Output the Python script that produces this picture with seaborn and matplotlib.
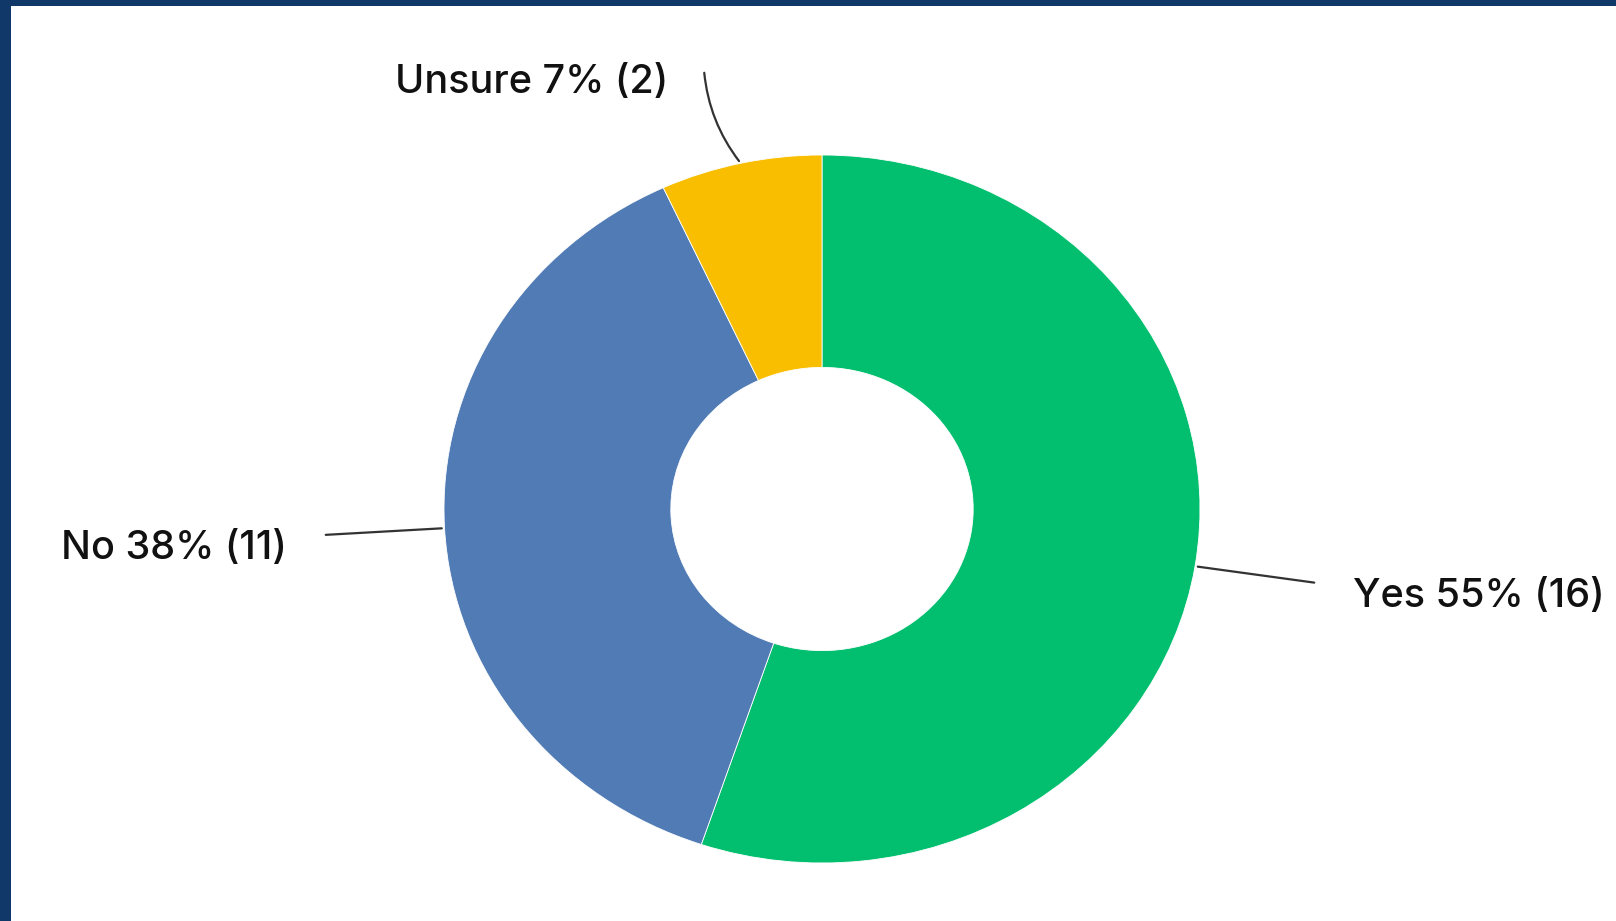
import numpy as np
import matplotlib
matplotlib.use("Agg")
import matplotlib.pyplot as plt
import seaborn as sns

# --- data ---
labels = ["Yes", "No", "Unsure"]
counts = [16, 11, 2]
colors = ["#02BF6F", "#507BB4", "#F9BE00"]

sns.set_theme(style="white")
plt.rcParams["font.family"] = ["Inter", "DejaVu Sans"]

NAVY = "#10396A"
W, H = 1616, 921

fig = plt.figure(figsize=(W / 100, H / 100), dpi=100)
fig.patch.set_facecolor(NAVY)
# white panel, navy strip on left and top; limits in pixel units
ax = fig.add_axes([11 / W, 0, 1 - 11 / W, 1 - 6 / H])
ax.set_facecolor("white")
ax.set_xlim(11, W)
ax.set_ylim(0, H - 6)
ax.set_axis_off()
ax.add_patch(plt.Rectangle((11, 0), W - 11, H - 6, color="white", zorder=0))

# donut is slightly wider than tall in the reference
cx, cy, rx, ry = 822, 412, 378, 354
pax = fig.add_axes([(cx - rx) / W, (cy - ry) / H, 2 * rx / W, 2 * ry / H])
wedges, _ = pax.pie(counts, colors=colors, startangle=90, counterclock=False,
                    radius=1, wedgeprops=dict(width=0.6, edgecolor="white", linewidth=0.6))
pax.set_aspect("auto")
pax.set_xlim(-1, 1)
pax.set_ylim(-1, 1)
pax.set_axis_off()

total = sum(counts)
# label placement: (end of leader line, text anchor offset, ha, curve)
label_pos = {
    "Yes": ((1317, 338), (36, -14), "left", 0.0),
    "No": ((323, 386), (-36, -14), "right", 0.0),
    "Unsure": ((704, 851), (-36, -13), "right", 0.15),
}
for w, lab, n in zip(wedges, labels, counts):
    ang = np.deg2rad((w.theta1 + w.theta2) / 2)
    start = (cx + rx * np.cos(ang), cy + ry * np.sin(ang))
    end, off, ha, rad = label_pos[lab]
    ax.annotate("", xy=start, xytext=end,
                arrowprops=dict(arrowstyle="-", color="#333333", lw=1.6,
                                connectionstyle=f"arc3,rad={rad}"))
    ax.text(end[0] + off[0], end[1] + off[1], f"{lab} {round(100 * n / total)}% ({n})",
            ha=ha, va="center", fontsize=28.5, fontweight="medium", color="#111111")

fig.savefig("out.png", dpi=100, facecolor=NAVY)
